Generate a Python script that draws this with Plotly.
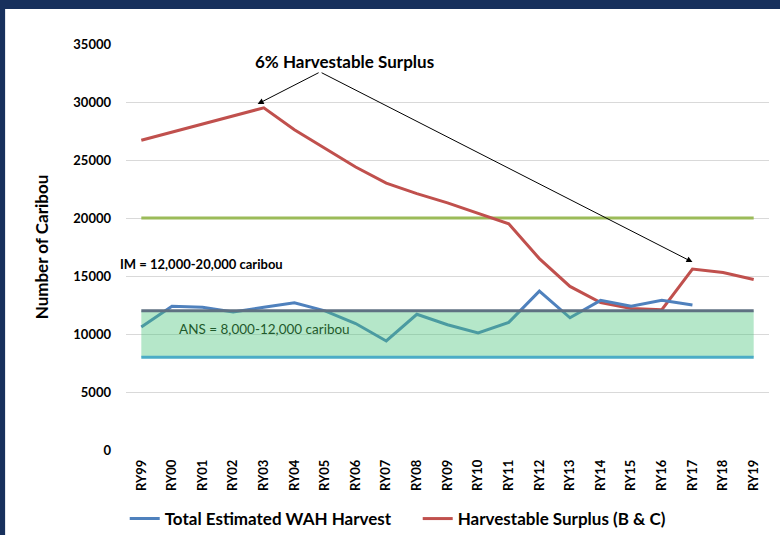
import plotly.graph_objects as go

categories = ["RY99", "RY00", "RY01", "RY02", "RY03", "RY04", "RY05", "RY06", "RY07", "RY08",
              "RY09", "RY10", "RY11", "RY12", "RY13", "RY14", "RY15", "RY16", "RY17", "RY18", "RY19"]
harvest = [10600, 12400, 12300, 11900, 12300, 12700, 12000, 10900, 9400, 11700,
           10800, 10100, 11000, 13700, 11400, 12900, 12400, 12900, 12500]
surplus = [26700, 27400, 28100, 28800, 29500, 27600, 26000, 24400, 23000, 22100,
           21300, 20400, 19500, 16500, 14100, 12700, 12200, 12100, 15600, 15300, 14700]
im_upper = [20000] * len(categories)
ans_upper = [12000] * len(categories)
ans_lower = [8000] * len(categories)
y_ticks = [0, 5000, 10000, 15000, 20000, 25000, 30000, 35000]
y_tick_text = ["<b>%d</b>" % v for v in y_ticks]
x_tick_text = ["<b>%s</b>" % c for c in categories]

FONT = "Lato"
fig = go.Figure()

fig.add_trace(go.Scatter(x=categories, y=im_upper, mode="lines", showlegend=False,
                         line=dict(color="#9BBB59", width=3), hoverinfo="skip"))
fig.add_trace(go.Scatter(x=categories, y=surplus, mode="lines", showlegend=False,
                         line=dict(color="#C0504D", width=3)))
fig.add_trace(go.Scatter(x=categories[:len(harvest)], y=harvest, mode="lines", showlegend=False,
                         line=dict(color="#4F81BD", width=3)))
fig.add_trace(go.Scatter(x=categories, y=ans_lower, mode="lines", showlegend=False,
                         line=dict(color="#4BACC6", width=3), hoverinfo="skip"))
fig.add_trace(go.Scatter(x=categories, y=ans_upper, mode="lines", showlegend=False,
                         fill="tonexty", fillcolor="rgba(70,195,120,0.4)",
                         line=dict(color="#5F7182", width=3), hoverinfo="skip"))

# legend-only entries
fig.add_trace(go.Scatter(x=[None], y=[None], mode="lines", name="<b>Total Estimated WAH Harvest</b>",
                         line=dict(color="#4F81BD", width=3)))
fig.add_trace(go.Scatter(x=[None], y=[None], mode="lines", name="<b>Harvestable Surplus (B & C)</b>",
                         line=dict(color="#C0504D", width=3)))

# white panel over the navy background
fig.add_shape(type="rect", xref="paper", yref="paper", x0=-0.188, x1=1.05, y0=-0.25, y1=1.086,
              fillcolor="white", line=dict(width=0), layer="below")

fig.add_annotation(x=6.65, y=33450, text="<b>6% Harvestable Surplus</b>", showarrow=False,
                   font=dict(family=FONT, size=17, color="black"))
fig.add_annotation(x=3.8, y=29830, ax=5.84, ay=32590, axref="x", ayref="y", xref="x", yref="y",
                   text="", showarrow=True, arrowhead=2, arrowsize=1.2, arrowwidth=1, arrowcolor="black")
fig.add_annotation(x=18.0, y=16200, ax=5.84, ay=32590, axref="x", ayref="y", xref="x", yref="y",
                   text="", showarrow=True, arrowhead=2, arrowsize=1.2, arrowwidth=1, arrowcolor="black")
fig.add_annotation(xref="paper", x=-0.012, y=16034, xanchor="left", text="<b>IM = 12,000-20,000 caribou</b>",
                   showarrow=False, font=dict(family=FONT, size=13, color="black"))
fig.add_annotation(x=1.15, y=10430, xanchor="left", text="ANS = 8,000-12,000 caribou",
                   showarrow=False, font=dict(family=FONT, size=13.5, color="#1F5A2C"))

fig.update_layout(
    width=780, height=535,
    margin=dict(l=126, r=11, t=44, b=85, autoexpand=False),
    paper_bgcolor="#17305C", plot_bgcolor="rgba(0,0,0,0)",
    font=dict(family=FONT, color="black"),
    legend=dict(orientation="h", x=-0.002, xanchor="left", y=-0.17, yanchor="middle",
                font=dict(family=FONT, size=17, color="black"), bgcolor="rgba(0,0,0,0)",
                itemwidth=30, traceorder="normal", entrywidth=248),
)
fig.update_xaxes(type="category", range=[-0.5, 20.5], showgrid=False, showline=False, ticks="",
                 tickangle=-90, tickfont=dict(family=FONT, size=13, color="black"),
                 tickvals=categories, ticktext=x_tick_text, ticklabelstandoff=6)
fig.update_yaxes(range=[0, 35000], tickvals=y_ticks, ticktext=y_tick_text, showgrid=True,
                 gridcolor="#D9D9D9", gridwidth=1,
                 zeroline=False, showline=False, ticklabelstandoff=14,
                 tickfont=dict(family=FONT, size=13, color="black"),
                 title=dict(text="<b>Number of Caribou</b>", font=dict(family=FONT, size=17), standoff=20))

fig.write_html("out.html", config={"displayModeBar": False},
               post_script="document.body.style.margin='0';document.body.style.background='#17305C';")
